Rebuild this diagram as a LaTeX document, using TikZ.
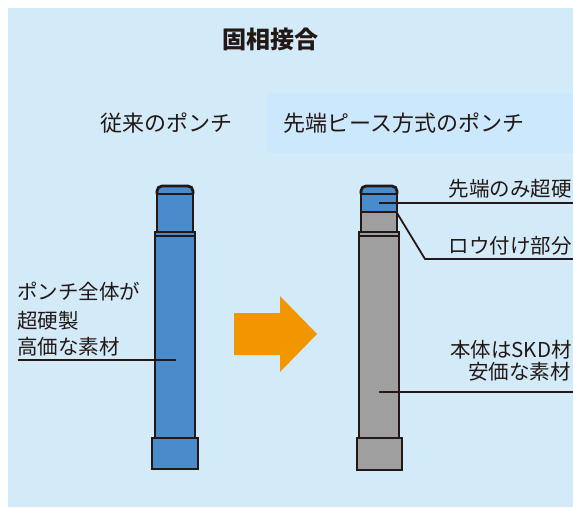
\documentclass[tikz,border=0pt]{standalone}
\usepackage{fontspec}
\newfontfamily\jp{Noto Sans CJK JP}
\definecolor{bgblue}{HTML}{D3EAF9}
\definecolor{boxblue}{HTML}{CCE8FC}
\definecolor{punchblue}{HTML}{4A8BCB}
\definecolor{punchgray}{HTML}{A09F9F}
\definecolor{ink}{HTML}{231815}
\definecolor{arroworange}{HTML}{F29600}
\tikzset{
  outline/.style={draw=ink, line width=2.8pt, line join=miter},
  leader/.style={draw=ink, line width=1.8pt},
  label/.style={font=\jp\fontsize{20.5}{27}\selectfont, text=ink, inner sep=0pt},
  heading/.style={font=\jp\fontsize{22}{26}\selectfont, text=ink, inner sep=0pt},
}
\begin{document}
\begin{tikzpicture}[x=1pt,y=-1pt]
\useasboundingbox (0,0) rectangle (573,507);
% background panels
\fill[bgblue] (8,8) rectangle (573,507);
\fill[boxblue] (267,93) rectangle (573,153);

% titles
\node[font=\jp\bfseries\fontsize{24}{28}\selectfont, text=ink, inner sep=0pt] (title) at (270,39) {固相接合};
\node[heading, anchor=west] (conv) at (100,123) {従来のポンチ};
\node[heading, anchor=west] (tipped) at (283,123) {先端ピース方式のポンチ};

% conventional punch (all carbide)
\path[outline, fill=punchblue] (155,232) rectangle (195,438);
\draw[outline] (155,236) -- (195,236);
\path[outline, fill=punchblue] (152,438) rectangle (198,469);
\path[outline, fill=punchblue] (157,232) rectangle (193,193);
\path[outline, fill=punchblue, rounded corners=5pt] (157,194) -- (157,186) -- (193,186) -- (193,194);
\draw[outline] (157,194) -- (193,194);
\coordinate (lbody) at (176,360);

% arrow
\fill[arroworange] (234,313) -- (280,313) -- (280,296) -- (317,334) -- (280,372) -- (280,355) -- (234,355) -- cycle;

% tipped punch: carbide tip brazed onto an SKD body
\path[outline, fill=punchgray] (359,232) rectangle (399,438);
\draw[outline] (359,236) -- (399,236);
\path[outline, fill=punchgray] (357,438) rectangle (402,470);
\path[outline, fill=punchgray] (361,212) rectangle (397,232);
\path[outline, fill=punchblue] (361,212) rectangle (397,193);
\path[outline, fill=punchblue, rounded corners=5pt] (361,194) -- (361,186) -- (397,186) -- (397,194);
\draw[outline] (361,194) -- (397,194);
\coordinate (tip) at (379,203);
\coordinate (braze) at (397,213);
\coordinate (bend) at (425,259);
\coordinate (rbody) at (379,392);
\coordinate (edgeA) at (573,203);
\coordinate (edgeB) at (573,259);
\coordinate (edgeC) at (573,392);
\coordinate (edgeL) at (18,360);

% leaders
\draw[leader] (edgeL) -- (lbody);
\draw[leader] (tip) -- (edgeA);
\draw[leader] (braze) -- (bend) -- (edgeB);
\draw[leader] (rbody) -- (edgeC);

% labels
\node[label, anchor=west] (l1) at (17,292) {ポンチ全体が};
\node[label, anchor=west] (l2) at (17,321) {超硬製};
\node[label, anchor=west] (l3) at (17,347) {高価な素材};
\node[label, anchor=east] (r1) at (572,189) {先端のみ超硬};
\node[label, anchor=east] (r2) at (572,246) {ロウ付け部分};
\node[label, anchor=east] (r3) at (572,350) {本体はSKD材};
\node[label, anchor=east] (r4) at (571,372) {安価な素材};
\end{tikzpicture}
\end{document}
